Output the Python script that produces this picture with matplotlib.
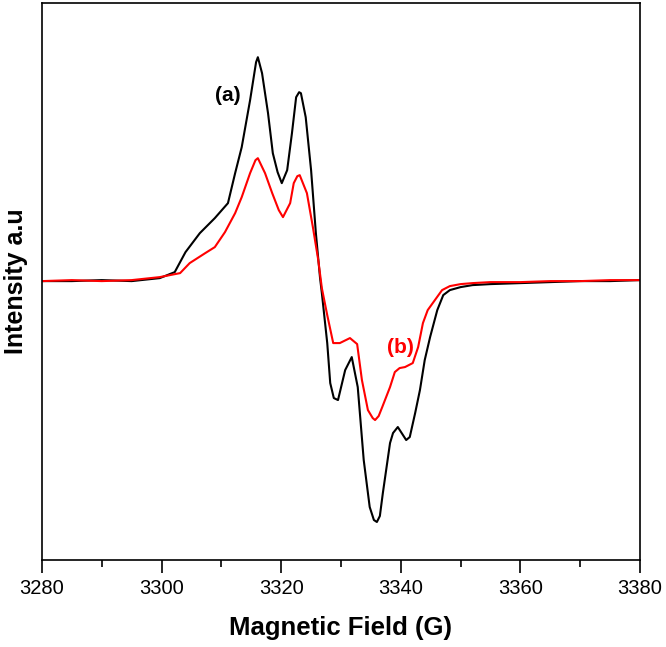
import matplotlib
matplotlib.use("Agg")
import matplotlib.pyplot as plt
from matplotlib.ticker import MultipleLocator

plt.rcParams['font.family'] = ['Liberation Sans', 'DejaVu Sans']

# Curve (a) - black
field_a = [3280, 3285, 3290, 3295, 3299.7, 3302.2, 3304.0, 3306.4, 3308.9, 3311.1, 3312.3,
           3313.4, 3314.8, 3315.8, 3316.1, 3316.8, 3317.8, 3318.6, 3319.4, 3320.1, 3321.0,
           3321.8, 3322.5, 3323.0, 3323.3, 3324.1, 3325.0, 3325.8, 3326.5, 3326.8, 3327.7,
           3328.2, 3328.8, 3329.5, 3330.7, 3331.8, 3332.8, 3333.8, 3334.8, 3335.5, 3336.0,
           3336.5, 3337.0, 3338.2, 3338.7, 3339.5, 3340.9, 3341.5, 3342.4, 3343.2, 3344.0,
           3344.9, 3346.1, 3347.1, 3348.2, 3350, 3352, 3355, 3360, 3365, 3370, 3375, 3380]
int_a = [-1, -1, 0, -1, 2, 8, 28, 47, 62, 77, 107,
         133, 180, 218, 223, 207, 167, 127, 108, 97, 110,
         147, 183, 188, 187, 163, 110, 47, 2, -13, -63,
         -103, -118, -120, -90, -77, -107, -180, -227, -240, -242,
         -236, -213, -163, -153, -147, -160, -157, -133, -110, -80,
         -57, -30, -15, -10, -7, -5, -4, -3, -2, -1, -1, 0]

# Curve (b) - red
field_b = [3280, 3285, 3290, 3295, 3299.7, 3303.1, 3304.7, 3307.3, 3308.9, 3310.6, 3312.3,
           3313.4, 3314.8, 3315.7, 3316.1, 3317.3, 3318.5, 3319.6, 3320.3, 3321.5, 3322.1,
           3322.7, 3323.1, 3324.3, 3325.3, 3326.2, 3326.8, 3327.7, 3328.7, 3329.8, 3331.5,
           3332.7, 3333.5, 3334.5, 3335.3, 3335.7, 3336.3, 3336.9, 3338.2, 3339.0, 3339.8,
           3340.7, 3342.0, 3342.9, 3343.7, 3344.5, 3345.7, 3346.9, 3348.2, 3350, 3352,
           3355, 3360, 3365, 3370, 3375, 3380]
int_b = [-1, 0, -1, 0, 3, 7, 17, 27, 33, 48, 67,
         83, 107, 120, 122, 107, 87, 70, 63, 77, 97,
         104, 105, 87, 53, 20, -8, -35, -63, -63, -58,
         -64, -100, -130, -138, -140, -136, -127, -107, -92, -88,
         -87, -83, -67, -43, -30, -20, -10, -6, -4, -3,
         -2, -2, -1, -1, 0, 0]

xticks = [3280, 3300, 3320, 3340, 3360, 3380]

fig = plt.figure(figsize=(6.66, 6.47), dpi=100)
ax = fig.add_axes([0.063, 0.1345, 0.898, 0.8605])

ax.plot(field_a, int_a, color='black', lw=1.5)
ax.plot(field_b, int_b, color='#ff0000', lw=1.5)

ax.set_xlim(3280, 3380)
ax.set_ylim(-280, 277)
ax.set_xticks(xticks)
ax.set_xticklabels([str(t) for t in xticks], fontsize=14.5)
ax.xaxis.set_minor_locator(MultipleLocator(10))
ax.set_yticks([])
ax.tick_params(axis='x', which='major', direction='out', length=9, width=1.2, pad=5)
ax.tick_params(axis='x', which='minor', direction='out', length=5, width=1.2)
ax.tick_params(top=False, right=False)
for s in ax.spines.values():
    s.set_linewidth(1.2)

ax.set_xlabel('Magnetic Field (G)', fontsize=18.5, fontweight='bold')
ax.xaxis.set_label_coords(0.5, -0.1)
ax.set_ylabel('Intensity a.u', fontsize=18, fontweight='bold')
ax.yaxis.set_label_coords(-0.024, 0.5)

ax.text(3311.1, 185, '(a)', fontsize=15, fontweight='bold', color='black',
        ha='center', va='center')
ax.text(3339.9, -67, '(b)', fontsize=15, fontweight='bold', color='#ff0000',
        ha='center', va='center')

fig.savefig('out.png', dpi=100)
